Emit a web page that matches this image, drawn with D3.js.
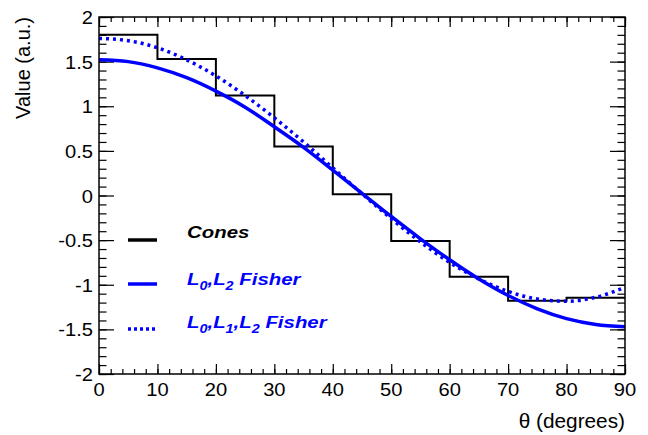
<!DOCTYPE html>
<html>
<head>
<meta charset="utf-8">
<script src="https://cdn.jsdelivr.net/npm/d3@7"></script>
<style>
  body { margin: 0; background: #fff; }
  text { font-family: "Liberation Sans", Arial, Helvetica, sans-serif; }
</style>
</head>
<body>
<div id="chart"></div>
<script>
// histogram bins (degrees) and cone values
var binEdges = [0, 10, 20, 30, 40, 50, 60, 70, 80, 90];
var coneValues = [1.80, 1.53, 1.12, 0.55, 0.015, -0.51, -0.91, -1.18, -1.145];

// fit curves every 5 degrees
var theta = [0, 5, 10, 15, 20, 25, 30, 35, 40, 45, 50, 55, 60, 65, 70, 75, 80, 85, 90];
var fisherL02 = [1.52, 1.50, 1.43, 1.32, 1.17, 0.99, 0.77, 0.54, 0.285, 0.025, -0.235, -0.485, -0.72, -0.935, -1.12, -1.27, -1.38, -1.445, -1.47];
var fisherL012 = [1.76, 1.735, 1.655, 1.52, 1.34, 1.12, 0.87, 0.60, 0.31, 0.02, -0.26, -0.52, -0.75, -0.935, -1.075, -1.16, -1.185, -1.14, -1.03];

var xTicks = [0, 10, 20, 30, 40, 50, 60, 70, 80, 90];
var yTicks = [-2, -1.5, -1, -0.5, 0, 0.5, 1, 1.5, 2];

var width = 648, height = 435;
var margin = {left: 99, right: 23, top: 17, bottom: 61};
var blue = '#0000ff';

var svg = d3.select('#chart').append('svg')
    .attr('width', width)
    .attr('height', height);

svg.append('rect').attr('width', width).attr('height', height).attr('fill', '#fff');

var x = d3.scaleLinear().domain([0, 90]).range([margin.left, width - margin.right]);
var y = d3.scaleLinear().domain([-2, 2]).range([height - margin.bottom, margin.top]);

var x0 = margin.left, x1 = width - margin.right;
var y0 = height - margin.bottom, y1 = margin.top;

// ticks (ROOT style, pointing inwards)
var minorX = d3.range(0, 90.01, 2);
var minorY = d3.range(-2, 2.001, 0.1);

function tickAxis(axis, tr, values, size) {
    var g = svg.append('g')
        .attr('transform', tr)
        .call(axis.tickValues(values).tickSize(size).tickFormat(''));
    g.select('.domain').remove();
    g.selectAll('line').attr('stroke', '#000').attr('stroke-width', 1.2);
    return g;
}
tickAxis(d3.axisBottom(x), 'translate(0,' + y0 + ')', minorX, -5);
tickAxis(d3.axisBottom(x), 'translate(0,' + y0 + ')', xTicks, -10);
tickAxis(d3.axisTop(x), 'translate(0,' + y1 + ')', minorX, -5);
tickAxis(d3.axisTop(x), 'translate(0,' + y1 + ')', xTicks, -10);
tickAxis(d3.axisLeft(y), 'translate(' + x0 + ',0)', minorY, -7.5);
tickAxis(d3.axisLeft(y), 'translate(' + x0 + ',0)', yTicks, -15);
tickAxis(d3.axisRight(y), 'translate(' + x1 + ',0)', minorY, -7.5);
tickAxis(d3.axisRight(y), 'translate(' + x1 + ',0)', yTicks, -15);

// labels in the reference are a little wider than the font
function label(txt, px, py, anchor, size, stretch) {
    return svg.append('text')
        .attr('transform', 'translate(' + px + ',' + py + ') scale(' + stretch + ',1)')
        .attr('text-anchor', anchor)
        .attr('font-size', size)
        .attr('fill', '#000')
        .text(txt);
}

// tick labels
xTicks.forEach(function (d) {
    label(d, x(d), y0 + 22, 'middle', 19, 1.06);
});
yTicks.forEach(function (d) {
    label(d, x0 - 6, y(d) + 7, 'end', 19, 1.06);
});

// axis titles
label('\u03b8 (degrees)', x1, 428, 'end', 20, 1.04);
svg.append('text')
    .attr('transform', 'translate(30,' + y1 + ') rotate(-90)')
    .attr('text-anchor', 'end')
    .attr('font-size', 20)
    .text('Value (a.u.)');

// cones histogram
var histPts = [];
coneValues.forEach(function (v, i) {
    histPts.push([binEdges[i], v]);
    histPts.push([binEdges[i + 1], v]);
});
var line = d3.line().x(function (d) { return x(d[0]); }).y(function (d) { return y(d[1]); });

svg.append('path')
    .attr('d', line(histPts))
    .attr('fill', 'none')
    .attr('stroke', '#000')
    .attr('stroke-width', 2);

var curve = d3.line()
    .x(function (d, i) { return x(theta[i]); })
    .y(function (d) { return y(d); })
    .curve(d3.curveMonotoneX);

svg.append('path')
    .attr('d', curve(fisherL02))
    .attr('fill', 'none')
    .attr('stroke', blue)
    .attr('stroke-width', 3.5);

svg.append('path')
    .attr('d', curve(fisherL012))
    .attr('fill', 'none')
    .attr('stroke', blue)
    .attr('stroke-width', 3.5)
    .attr('stroke-dasharray', '3,4');

// frame
svg.append('rect')
    .attr('x', x0).attr('y', y1)
    .attr('width', x1 - x0).attr('height', y0 - y1)
    .attr('fill', 'none')
    .attr('stroke', '#000')
    .attr('stroke-width', 1.5);

// legend
var legend = [
    {parts: [['Cones', 0]], color: '#000', dash: null, ly: 240, ty: 238},
    {parts: [['L', 0], ['0', 1], [',L', 0], ['2', 1], [' Fisher', 0]], color: blue, dash: null, ly: 284, ty: 285},
    {parts: [['L', 0], ['0', 1], [',L', 0], ['1', 1], [',L', 0], ['2', 1], [' Fisher', 0]], color: blue, dash: '3,3', ly: 329, ty: 328}
];

legend.forEach(function (d) {
    svg.append('line')
        .attr('x1', 128).attr('x2', 157)
        .attr('y1', d.ly).attr('y2', d.ly)
        .attr('stroke', d.color)
        .attr('stroke-width', 3.5)
        .attr('stroke-dasharray', d.dash);
    var t = svg.append('text')
        .attr('transform', 'translate(187,' + d.ty + ') scale(1.2,1)')
        .attr('font-size', 17)
        .attr('font-weight', 'bold')
        .attr('font-style', 'italic')
        .attr('fill', d.color);
    var shifted = false;
    d.parts.forEach(function (p) {
        var ts = t.append('tspan').text(p[0]);
        if (p[1]) {
            ts.attr('font-size', 12).attr('dy', shifted ? 0 : 5);
            shifted = true;
        } else if (shifted) {
            ts.attr('dy', -5);
            shifted = false;
        }
        ts.style('white-space', 'pre');
    });
});
</script>
</body>
</html>
